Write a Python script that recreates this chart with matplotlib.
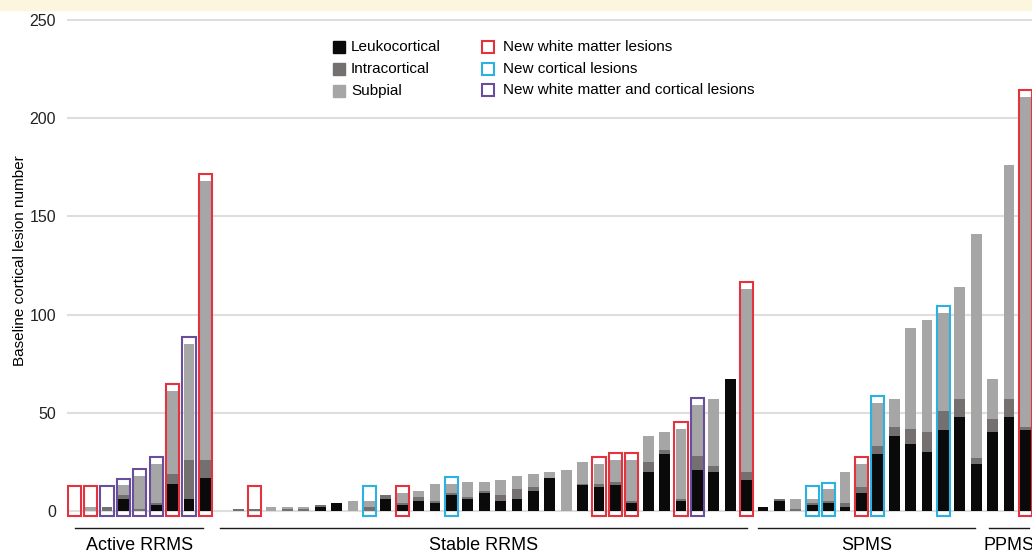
import numpy as np
import matplotlib
matplotlib.use("Agg")
import matplotlib.pyplot as plt
from matplotlib.patches import Rectangle


# lesion counts per patient, stacked as leukocortical / intracortical / subpial
active_leuko = [0, 0, 0, 6, 0, 3, 14, 6, 17]
active_intra = [0, 0, 2, 2, 1, 1, 5, 20, 9]
active_subpial = [0, 2, 0, 5, 17, 20, 42, 59, 142]
active_new = ['wm', 'wm', 'both', 'both', 'both', 'both', 'wm', 'both', 'wm']

stable_leuko = [0, 0, 0, 0, 0, 2, 4, 0, 0, 6, 3, 5, 4, 8, 6, 9,
                5, 6, 10, 17, 0, 13, 12, 13, 4, 20, 29, 5, 21, 20, 67, 16]
stable_intra = [1, 1, 0, 1, 1, 1, 0, 0, 2, 2, 1, 2, 1, 1, 1, 1,
                3, 5, 2, 0, 0, 1, 2, 2, 1, 5, 2, 1, 7, 3, 0, 4]
stable_subpial = [0, 0, 2, 1, 1, 0, 0, 5, 3, 0, 5, 3, 9, 5, 8, 5,
                  8, 7, 7, 3, 21, 11, 10, 11, 21, 13, 9, 36, 26, 34, 0, 93]
stable_new = [None, 'wm', None, None, None, None, None, None, 'cort', None,
              'wm', None, None, 'cort', None, None, None, None, None, None,
              None, None, 'wm', 'wm', 'wm', None, None, 'wm', 'both', None,
              None, 'wm']

spms_leuko = [2, 5, 0, 3, 4, 2, 9, 29, 38, 34, 30, 41, 48, 24]
spms_intra = [0, 1, 1, 1, 1, 2, 3, 4, 5, 8, 10, 10, 9, 3]
spms_subpial = [0, 0, 5, 2, 6, 16, 12, 22, 14, 51, 57, 50, 57, 114]
spms_new = [None, None, None, 'cort', 'cort', None, 'wm', 'cort',
            None, None, None, 'cort', None, None]

ppms_leuko = [40, 48, 41]
ppms_intra = [7, 9, 2]
ppms_subpial = [20, 119, 168]
ppms_new = [None, None, 'wm']

group_names = ['Active RRMS', 'Stable RRMS', 'SPMS', 'PPMS']

BLACK = '#0a0a0a'
DARK = '#747070'
LIGHT = '#a6a6a6'
BOX_COLORS = {'wm': '#e4323f', 'cort': '#2cb2e2', 'both': '#6b4d9e'}

W, H = 1032, 552


def fig_xy(x, y):
    # pixel position measured from the top-left corner -> figure fraction
    return x / W, 1 - y / H


def draw_group(ax, start, leuko, intra, subpial, new):
    x = np.arange(start, start + len(leuko))
    leuko = np.array(leuko)
    intra = np.array(intra)
    subpial = np.array(subpial)
    ax.bar(x, leuko, width=0.66, color=BLACK, zorder=2)
    ax.bar(x, intra, width=0.66, bottom=leuko, color=DARK, zorder=2)
    ax.bar(x, subpial, width=0.66, bottom=leuko + intra, color=LIGHT, zorder=2)

    total = leuko + intra + subpial
    for xi, t, kind in zip(x, total, new):
        if kind is None:
            continue
        top = max(t, 9) + 3.5
        ax.add_patch(Rectangle((xi - 0.4, -2.6), 0.8, top + 2.6, fill=False,
                               edgecolor=BOX_COLORS[kind], lw=1.5, zorder=3))


fig = plt.figure(figsize=(W / 100, H / 100), dpi=100)
plt.rcParams['font.family'] = ['Liberation Sans', 'DejaVu Sans']

slot = 16.4
left_px = 67
ax = fig.add_axes([left_px / W, 0, 1 - left_px / W, 1])
ax.set_xlim((left_px - 74.2) / slot, (W - 74.2) / slot)
ax.set_ylim(-41 / 1.964, (H - 41) / 1.964)

for v in range(0, 251, 50):
    ax.axhline(v, color='#dedede', lw=1.5, zorder=1)
ax.set_yticks(range(0, 251, 50))
ax.set_yticklabels([str(v) for v in range(0, 251, 50)], fontsize=11.5, color='#222222')
ax.tick_params(axis='y', length=0, pad=8)
ax.set_xticks([])
for s in ax.spines.values():
    s.set_visible(False)
ax.patch.set_alpha(0)

draw_group(ax, 0, active_leuko, active_intra, active_subpial, active_new)
draw_group(ax, 10, stable_leuko, stable_intra, stable_subpial, stable_new)
draw_group(ax, 42, spms_leuko, spms_intra, spms_subpial, spms_new)
draw_group(ax, 56, ppms_leuko, ppms_intra, ppms_subpial, ppms_new)

# group underlines and names
spans = [(0.05, 7.87), (8.89, 41.0), (41.7, 54.9), (55.8, 58.2)]
for (a, b), name in zip(spans, group_names):
    ax.plot([a, b], [-8.7, -8.7], color='#1a1a1a', lw=1.0, zorder=2)
    ax.text((a + b) / 2, -17.4, name, ha='center', va='center', fontsize=13)

fig.text(*fig_xy(20, 261), 'Baseline cortical lesion number', rotation=90,
         ha='center', va='center', fontsize=11)

# legend, drawn by hand in two columns
fill_items = [(BLACK, 'Leukocortical'), (DARK, 'Intracortical'), (LIGHT, 'Subpial')]
box_items = [('wm', 'New white matter lesions'), ('cort', 'New cortical lesions'),
             ('both', 'New white matter and cortical lesions')]
rows = [47, 69, 90.5]
for yc, (c, label) in zip(rows, fill_items):
    fig.add_artist(Rectangle(fig_xy(332.5, yc + 6), 12 / W, 12 / H, color=c,
                             transform=fig.transFigure))
    fig.text(*fig_xy(351, yc), label, ha='left', va='center', fontsize=11)
for yc, (kind, label) in zip(rows, box_items):
    fig.add_artist(Rectangle(fig_xy(482, yc + 5.5), 12 / W, 11.5 / H, fill=False,
                             edgecolor=BOX_COLORS[kind], lw=1.5,
                             transform=fig.transFigure))
    fig.text(*fig_xy(503, yc), label, ha='left', va='center', fontsize=11)

# pale strip along the top edge
fig.add_artist(Rectangle((0, 1 - 10 / H), 1, 10 / H, color='#fdf6de',
                         transform=fig.transFigure, zorder=5))

fig.savefig('out.png', dpi=100)
